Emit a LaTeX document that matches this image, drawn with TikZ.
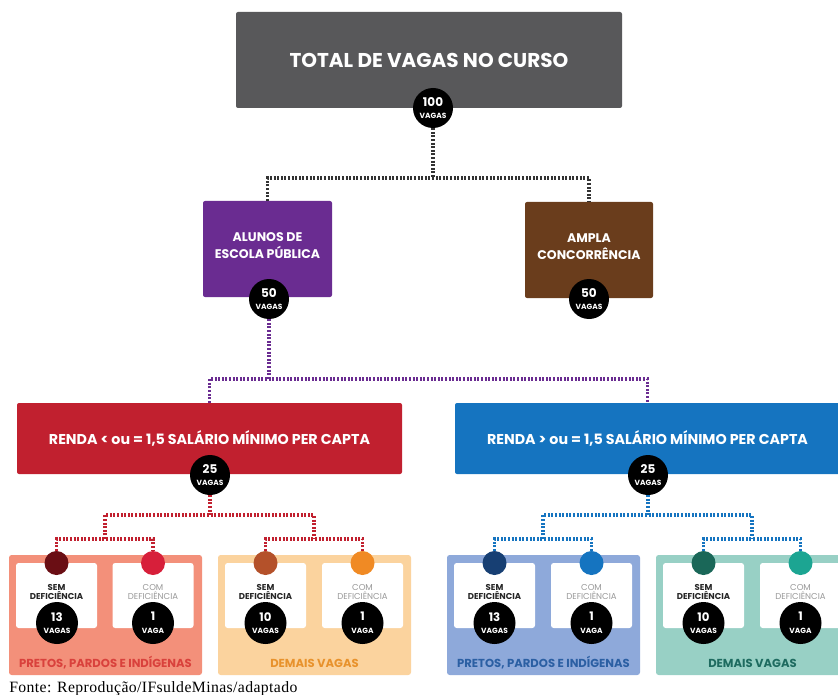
\documentclass[tikz,border=0pt]{standalone}
\usepackage{fontspec}
\setmainfont{Poppins}
\newfontfamily\srcfont[LetterSpace=2.5]{Liberation Serif}
\definecolor{cgray}{HTML}{58585A}
\definecolor{cpurple}{HTML}{6A2C91}
\definecolor{cbrown}{HTML}{6A3D1C}
\definecolor{cred}{HTML}{C1202F}
\definecolor{cblue}{HTML}{1574C0}
\definecolor{pSalmon}{HTML}{F3907A}
\definecolor{pOrange}{HTML}{FBD39E}
\definecolor{pBlue}{HTML}{8EA9DA}
\definecolor{pTeal}{HTML}{98D0C5}
\definecolor{lSalmon}{HTML}{D9413C}
\definecolor{lOrange}{HTML}{E8922C}
\definecolor{lBlue}{HTML}{2B5FA3}
\definecolor{lTeal}{HTML}{1E6B60}
\definecolor{dMaroon}{HTML}{6A0E14}
\definecolor{dCrimson}{HTML}{D71F3A}
\definecolor{dRust}{HTML}{B4512A}
\definecolor{dOrange}{HTML}{F08A24}
\definecolor{dNavy}{HTML}{173F73}
\definecolor{dBlue}{HTML}{1574C0}
\definecolor{dTeal}{HTML}{1A6758}
\definecolor{dAqua}{HTML}{1CA592}
\definecolor{ctop}{HTML}{333333}
\begin{document}
\begin{tikzpicture}[x=0.75pt,y=-0.75pt,
  bigbox/.style={rectangle, rounded corners=1.5pt, inner sep=0pt, text=white, align=center, font=\bfseries},
  blackc/.style={circle, fill=black, inner sep=0pt, minimum size=30pt, text=white, align=center, font=\bfseries},
  smallc/.style={circle, fill=black, inner sep=0pt, minimum size=31.5pt, text=white, align=center, font=\bfseries},
  dotc/.style={circle, inner sep=0pt, minimum size=18pt},
  panel/.style={rectangle, rounded corners=2pt, inner sep=0pt, minimum width=144.75pt, minimum height=90pt},
  card/.style={rectangle, rounded corners=2pt, fill=white, inner sep=0pt, minimum width=60.75pt, minimum height=48.75pt},
  semtxt/.style={align=center, font=\bfseries\fontsize{6.4}{7.2}\selectfont, text=black!85},
  comtxt/.style={align=center, font=\fontsize{6.4}{7.2}\selectfont, text=black!40},
  plabel/.style={font=\bfseries\fontsize{8.7}{9}\selectfont},
  dotline/.style={line width=2.3pt, dash pattern=on 1.5pt off 1.2pt},
]
\useasboundingbox (0,0) rectangle (838,695);
\clip (0,0) rectangle (838,695);

% ---------- top level ----------
\node[bigbox, fill=cgray, minimum width=289.5pt, minimum height=72pt, font=\bfseries\fontsize{15}{16}\selectfont] (top) at (429,60) {TOTAL DE VAGAS NO CURSO};
\node[bigbox, fill=cpurple, minimum width=96.75pt, minimum height=72pt, font=\bfseries\fontsize{9.4}{11.5}\selectfont] (pub) at (267.5,249) {\raisebox{13pt}{\begin{tabular}{@{}c@{}}ALUNOS DE\\ESCOLA PÚBLICA\end{tabular}}};
\node[bigbox, fill=cbrown, minimum width=96pt, minimum height=72pt, font=\bfseries\fontsize{9.4}{11.5}\selectfont] (amp) at (589,250) {\raisebox{13pt}{\begin{tabular}{@{}c@{}}AMPLA\\CONCORRÊNCIA\end{tabular}}};
\node[bigbox, fill=cred, minimum width=288.75pt, minimum height=53.25pt, font=\bfseries\fontsize{10.7}{12}\selectfont] (rlow) at (209.5,438.5) {RENDA < ou = 1,5 SALÁRIO MÍNIMO PER CAPTA};
\node[bigbox, fill=cblue, minimum width=288.75pt, minimum height=53.25pt, font=\bfseries\fontsize{10.7}{12}\selectfont] (rhigh) at (647.5,438.5) {RENDA > ou = 1,5 SALÁRIO MÍNIMO PER CAPTA};

% big count circles
\node[blackc] (c100) at (433,108) {\fontsize{9}{8}\selectfont 100\\[-2.5pt]\fontsize{5.6}{5}\selectfont VAGAS};
\node[blackc] (c50a) at (269,299) {\fontsize{9}{8}\selectfont 50\\[-2.5pt]\fontsize{5.6}{5}\selectfont VAGAS};
\node[blackc] (c50b) at (589,299) {\fontsize{9}{8}\selectfont 50\\[-2.5pt]\fontsize{5.6}{5}\selectfont VAGAS};
\node[blackc] (c25a) at (210,475) {\fontsize{9}{8}\selectfont 25\\[-2.5pt]\fontsize{5.6}{5}\selectfont VAGAS};
\node[blackc] (c25b) at (648,475) {\fontsize{9}{8}\selectfont 25\\[-2.5pt]\fontsize{5.6}{5}\selectfont VAGAS};

% ---------- panels ----------
\node[panel, fill=pSalmon] (pA) at (105.5,615) {};
\node[panel, fill=pOrange] (pB) at (314.5,615) {};
\node[panel, fill=pBlue] (pC) at (543.5,615) {};
\node[panel, fill=pTeal] (pD) at (752.5,615) {};

\node[plabel, text=lSalmon] (lA) at (105.5,663) {PRETOS, PARDOS E INDÍGENAS};
\node[plabel, text=lOrange] (lB) at (314.5,663) {DEMAIS VAGAS};
\node[plabel, text=lBlue] (lC) at (543.5,663) {PRETOS, PARDOS E INDÍGENAS};
\node[plabel, text=lTeal] (lD) at (752.5,663) {DEMAIS VAGAS};

% cards
\node[card] (kA1) at (56.5,595.5) {};
\node[card] (kA2) at (153,595.5) {};
\node[card] (kB1) at (265.5,595.5) {};
\node[card] (kB2) at (362.5,595.5) {};
\node[card] (kC1) at (494.5,595.5) {};
\node[card] (kC2) at (591.5,595.5) {};
\node[card] (kD1) at (703.5,595.5) {};
\node[card] (kD2) at (800.5,595.5) {};

% card texts
\node[semtxt] (tA1) at (56.5,592) {SEM\\DEFICIÊNCIA};
\node[comtxt] (tA2) at (153,592) {COM\\DEFICIÊNCIA};
\node[semtxt] (tB1) at (265.5,592) {SEM\\DEFICIÊNCIA};
\node[comtxt] (tB2) at (362.5,592) {COM\\DEFICIÊNCIA};
\node[semtxt] (tC1) at (494.5,592) {SEM\\DEFICIÊNCIA};
\node[comtxt] (tC2) at (591.5,592) {COM\\DEFICIÊNCIA};
\node[semtxt] (tD1) at (703.5,592) {SEM\\DEFICIÊNCIA};
\node[comtxt] (tD2) at (800.5,592) {COM\\DEFICIÊNCIA};

% colored dots
\node[dotc, fill=dMaroon] (dA1) at (56.5,563) {};
\node[dotc, fill=dCrimson] (dA2) at (153,563) {};
\node[dotc, fill=dRust] (dB1) at (265.5,563) {};
\node[dotc, fill=dOrange] (dB2) at (362.5,563) {};
\node[dotc, fill=dNavy] (dC1) at (494.5,563) {};
\node[dotc, fill=dBlue] (dC2) at (591.5,563) {};
\node[dotc, fill=dTeal] (dD1) at (703.5,563) {};
\node[dotc, fill=dAqua] (dD2) at (800.5,563) {};

% bottom count circles
\node[smallc] (nA1) at (57,623) {\fontsize{8.8}{8}\selectfont 13\\[-2.5pt]\fontsize{5.6}{5}\selectfont VAGAS};
\node[smallc] (nA2) at (153,623) {\fontsize{8.8}{8}\selectfont 1\\[-2.5pt]\fontsize{5.6}{5}\selectfont VAGA};
\node[smallc] (nB1) at (265.5,623) {\fontsize{8.8}{8}\selectfont 10\\[-2.5pt]\fontsize{5.6}{5}\selectfont VAGAS};
\node[smallc] (nB2) at (362.5,623) {\fontsize{8.8}{8}\selectfont 1\\[-2.5pt]\fontsize{5.6}{5}\selectfont VAGA};
\node[smallc] (nC1) at (494.5,623) {\fontsize{8.8}{8}\selectfont 13\\[-2.5pt]\fontsize{5.6}{5}\selectfont VAGAS};
\node[smallc] (nC2) at (591.5,623) {\fontsize{8.8}{8}\selectfont 1\\[-2.5pt]\fontsize{5.6}{5}\selectfont VAGA};
\node[smallc] (nD1) at (703.5,623) {\fontsize{8.8}{8}\selectfont 10\\[-2.5pt]\fontsize{5.6}{5}\selectfont VAGAS};
\node[smallc] (nD2) at (800.5,623) {\fontsize{8.8}{8}\selectfont 1\\[-2.5pt]\fontsize{5.6}{5}\selectfont VAGA};

% ---------- connectors ----------
\coordinate (j0) at (433,178);
\coordinate (j1) at (269,379);
\coordinate (jr) at (210,515);
\coordinate (jrA) at (105,539);
\coordinate (jrB) at (314,539);
\coordinate (jb) at (648,515);
\coordinate (jbC) at (543,539);
\coordinate (jbD) at (752,539);

\draw[dotline, ctop] (c100.south) -- (j0);
\draw[dotline, ctop] (pub.north) |- (j0) -| (amp.north);

\draw[dotline, cpurple] (c50a.south) -- (j1);
\draw[dotline, cpurple] (rlow.north) |- (j1) -| (rhigh.north);

\draw[dotline, cred] (c25a.south) -- (jr);
\draw[dotline, cred] (jrA) |- (jr) -| (jrB);
\draw[dotline, cred] (dA1.north) |- (jrA) -| (dA2.north);
\draw[dotline, cred] (dB1.north) |- (jrB) -| (dB2.north);

\draw[dotline, cblue] (c25b.south) -- (jb);
\draw[dotline, cblue] (jbC) |- (jb) -| (jbD);
\draw[dotline, cblue] (dC1.north) |- (jbC) -| (dC2.north);
\draw[dotline, cblue] (dD1.north) |- (jbD) -| (dD2.north);

% source
\node[anchor=base west, inner sep=0pt, font=\srcfont\fontsize{11.8}{12}\selectfont] (src) at (9,692) {Fonte: Reprodução/IFsuldeMinas/adaptado};
\end{tikzpicture}
\end{document}
